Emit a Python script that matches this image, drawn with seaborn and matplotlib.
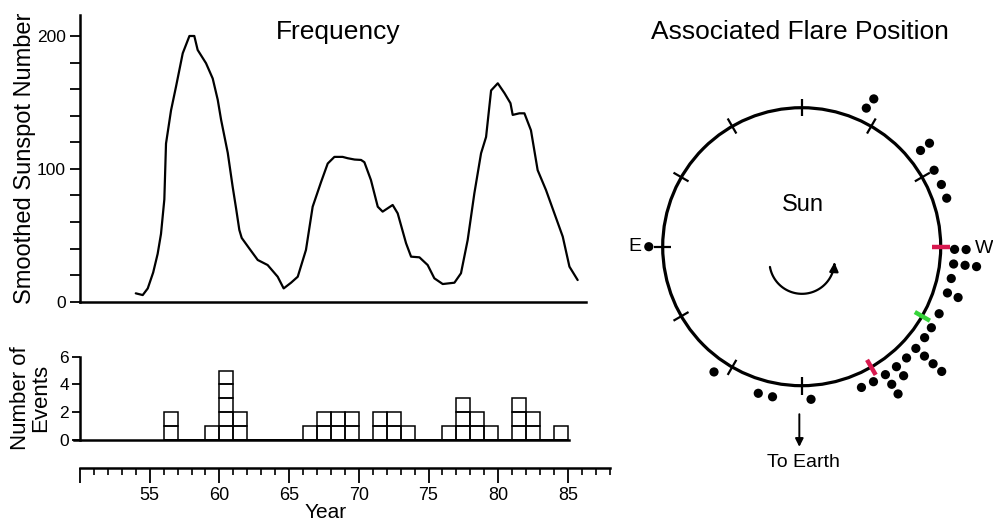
import numpy as np
import pandas as pd
import seaborn as sns
import matplotlib.pyplot as plt
from matplotlib.patches import Circle, FancyArrowPatch
from matplotlib.path import Path
from matplotlib.ticker import MultipleLocator, FixedLocator

sns.set_theme(style="ticks", rc={
    "axes.edgecolor": "black", "xtick.color": "black", "ytick.color": "black",
    "text.color": "black", "axes.labelcolor": "black",
})
plt.rcParams["font.family"] = ["Liberation Sans", "DejaVu Sans"]

# Smoothed sunspot number (year offset from 1900)
sunspot_year = [54.0, 54.5, 54.86, 55.25, 55.57, 55.81, 56.05, 56.17, 56.53, 56.89,
                57.37, 57.85, 58.2, 58.44, 59.04, 59.52, 59.88, 60.12, 60.6, 60.95,
                61.2, 61.43, 61.6, 62.15, 62.75, 63.46, 64.18, 64.61, 65.14, 65.62,
                66.21, 66.69, 67.29, 67.77, 68.25, 68.84, 69.2, 69.7, 70.16, 70.4,
                70.87, 71.36, 71.71, 72.43, 72.79, 73.39, 73.75, 74.35, 74.94, 75.42,
                76.02, 76.86, 77.33, 77.81, 78.29, 78.77, 79.13, 79.49, 79.97, 80.45,
                80.88, 81.04, 81.52, 81.88, 82.35, 82.83, 83.43, 84.03, 84.63, 85.11,
                85.7]
sunspot_value = [6.3, 5, 10, 22, 36, 51, 77, 119, 144, 162,
                 187, 200, 200, 189.5, 179.5, 168, 152, 137, 112, 86.6,
                 70, 54, 48, 40, 31.4, 27.6, 18.8, 10, 14.3, 18.8,
                 39, 71.5, 90, 104, 109, 109, 108, 107, 106.7, 105,
                 91.6, 71.5, 67.8, 72.8, 66.5, 44, 33.9, 33.4, 27.6, 17.6,
                 13.3, 14.3, 21.4, 46.4, 81.6, 111.7, 124, 159, 164.4, 157,
                 149.4, 140.6, 141.8, 141.8, 129, 99, 84, 66.5, 49, 26.4,
                 16.3]

# Number of events per year
event_year = [56, 59, 60, 61, 66, 67, 68, 69, 71, 72, 73, 76, 77, 78, 79, 81, 82, 84]
event_count = [2, 1, 5, 2, 1, 2, 2, 2, 2, 2, 1, 1, 3, 2, 1, 3, 2, 1]

# Flare positions: limb angle (deg, counterclockwise from W) and stacking row outside the limb
flare_angle = [64, 65, 39, 39, 30, 24, 18.5,
               -1, -1, 180,
               -6.5, -6.5, -6.5, -12, -17.6, -18, -26, -32, -36.5,
               -41.7, -41.7, -41.7, -41.7, -46.7, -51.7, -51.7,
               -56.8, -56.8, -56.8, -62, -67,
               235, 253.5, 259, 273.5]
flare_row = [1, 0, 1, 0, 0, 0, 0,
             0, 1, 0,
             0, 1, 2, 0, 0, 1, 0, 0, 0,
             0, 1, 2, 3, 0, 0, 1,
             0, 1, 2, 0, 0,
             0, 0, 0, 0]

limb_ticks = [0, 30, 60, 90, 120, 150, 180, 210, 240, 270, 300, 330]
limb_tick_colors = {0: "#d8194f", 330: "#36d43a", 300: "#d8194f"}

W, H = 993, 525
fig = plt.figure(figsize=(W / 100, H / 100), dpi=100)
fig.patch.set_facecolor("white")

px_per_year = 13.94
x0_px = 80
year_lo, year_hi = 50, 86.3

# ---- Sunspot curve ----
ax1 = fig.add_axes([x0_px / W, (H - 301.7) / H,
                    (year_hi - year_lo) * px_per_year / W, 286.7 / H])
sns.lineplot(x=sunspot_year, y=sunspot_value, sort=False, estimator=None,
             color="black", linewidth=1.6, ax=ax1)
ax1.set_xlim(year_lo, year_hi)
ax1.set_ylim(0, 215.8)
ax1.set_xticks([])
ax1.yaxis.set_major_locator(FixedLocator([0, 100, 200]))
ax1.yaxis.set_minor_locator(MultipleLocator(20))
ax1.tick_params(axis="y", which="both", direction="out", length=7, width=1.3,
                labelsize=12.5, pad=3)
for s in ["top", "right"]:
    ax1.spines[s].set_visible(False)
for s in ["left", "bottom"]:
    ax1.spines[s].set_linewidth(1.8)
ax1.set_xlabel("")
ax1.set_ylabel("")
ax1.patch.set_alpha(0)

# ---- Event histogram drawn as stacked unit boxes ----
rows = []
for yr, n in zip(event_year, event_count):
    for k in range(n):
        rows.append({"year": yr + 0.5, "level": f"L{k}"})
events = pd.DataFrame(rows)
levels = sorted(events["level"].unique())

ax2 = fig.add_axes([x0_px / W, (H - 440) / H,
                    (year_hi - year_lo) * px_per_year / W, 83.3 / H])
sns.histplot(data=events, x="year", hue="level", hue_order=levels,
             multiple="stack", bins=np.arange(56, 86), fill=False,
             palette=["black"] * len(levels), linewidth=1.1,
             legend=False, ax=ax2)
ax2.set_xlim(year_lo, year_hi)
ax2.set_ylim(0, 6)
ax2.set_xticks([])
ax2.set_yticks([0, 2, 4, 6])
ax2.tick_params(axis="y", direction="out", length=6, width=1.3, labelsize=12.5, pad=2)
for s in ["top", "right"]:
    ax2.spines[s].set_visible(False)
ax2.spines["left"].set_linewidth(1.8)
ax2.spines["bottom"].set_linewidth(1.8)
ax2.spines["bottom"].set_bounds(year_lo - 0.4, 85.1)
ax2.spines["left"].set_bounds(0, 6)
ax2.set_xlabel("")
ax2.set_ylabel("")
ax2.patch.set_alpha(0)

# ---- Year ruler ----
ruler_hi = 88
ax3 = fig.add_axes([x0_px / W, (H - 468) / H,
                    (ruler_hi - year_lo) * px_per_year / W, 0.001])
ax3.set_xlim(year_lo, ruler_hi)
ax3.set_yticks([])
for s in ["top", "right", "left"]:
    ax3.spines[s].set_visible(False)
ax3.spines["bottom"].set_linewidth(1.8)
major = list(range(50, 86, 5))
ax3.xaxis.set_major_locator(FixedLocator(major))
ax3.set_xticklabels(["" if m == 50 else str(m) for m in major])
ax3.xaxis.set_minor_locator(MultipleLocator(1))
ax3.tick_params(axis="x", which="major", direction="out", length=11, width=1.3,
                labelsize=13, pad=3)
ax3.tick_params(axis="x", which="minor", direction="out", length=5, width=1.2)
ax3.patch.set_alpha(0)

# ---- Text ----
fig.text(338.5 / W, 1 - 32 / H, "Frequency", fontsize=19, ha="center", va="center")
fig.text(800 / W, 1 - 32 / H, "Associated Flare Position", fontsize=19,
         ha="center", va="center")
fig.text(25 / W, 1 - 158 / H, "Smoothed Sunspot Number", fontsize=17,
         rotation=90, ha="center", va="center")
fig.text(31 / W, 1 - 398 / H, "Number of\nEvents", fontsize=16, rotation=90,
         ha="center", va="center", linespacing=0.95, multialignment="center")
fig.text(326 / W, 1 - 513 / H, "Year", fontsize=15, ha="center", va="center")

# ---- Sun disk with flare positions ----
R_px = 139
cx, cy = 801.7, 246.7
left_px, right_px, top_px, bot_px = 620, 993, 55, 485
ax4 = fig.add_axes([left_px / W, (H - bot_px) / H,
                    (right_px - left_px) / W, (bot_px - top_px) / H])
ax4.set_xlim((left_px - cx) / R_px, (right_px - cx) / R_px)
ax4.set_ylim((cy - bot_px) / R_px, (cy - top_px) / R_px)
ax4.axis("off")

ax4.add_patch(Circle((0, 0), 1, fill=False, lw=2.3, color="black"))
for a in limb_ticks:
    t = np.deg2rad(a)
    col = limb_tick_colors.get(a, "black")
    ax4.plot([0.94 * np.cos(t), 1.065 * np.cos(t)],
             [0.94 * np.sin(t), 1.065 * np.sin(t)],
             color=col, lw=3.2 if a in limb_tick_colors else 1.6,
             solid_capstyle="butt")

ang = np.deg2rad(np.array(flare_angle))
rad = 1.10 + 0.083 * np.array(flare_row)
sns.scatterplot(x=rad * np.cos(ang), y=rad * np.sin(ang), color="black",
                s=44, edgecolor="none", ax=ax4, legend=False)

ax4.text(0.006, 0.30, "Sun", fontsize=17, ha="center", va="center")
ax4.text(-1.2, 0.0, "E", fontsize=14, ha="center", va="center")
ax4.text(1.31, -0.01, "W", fontsize=14, ha="center", va="center")

# rotation sense arrow
rc_x, rc_y, rr = 0.002, -0.105, 0.234
th = np.deg2rad(np.linspace(190, 358, 60))
verts = np.column_stack([rc_x + rr * np.cos(th), rc_y + rr * np.sin(th)])
ax4.add_patch(FancyArrowPatch(path=Path(verts), arrowstyle="-|>",
                              mutation_scale=13, lw=1.6, color="black"))

# direction to Earth
ax4.annotate("", xy=(-0.017, -1.44), xytext=(-0.017, -1.205),
             arrowprops=dict(arrowstyle="-|>", lw=1.4, color="black",
                             mutation_scale=12, shrinkA=0, shrinkB=0))
ax4.text(0.009, -1.551, "To Earth", fontsize=14, ha="center", va="center")

fig.savefig("out.png", dpi=100, facecolor="white")
